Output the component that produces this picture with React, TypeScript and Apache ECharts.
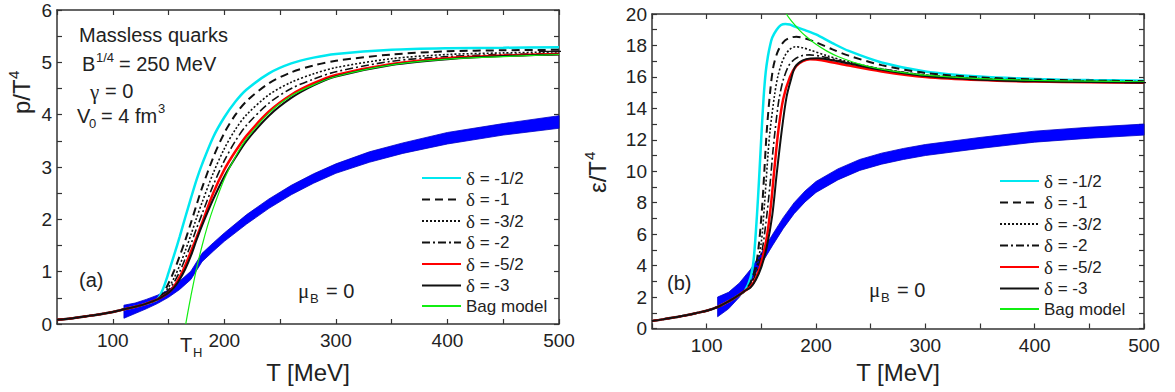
import React, { useEffect, useRef } from 'react';
import * as echarts from 'echarts';

// ---------- legend / series names ----------
const seriesNames = ['δ = -1/2', 'δ = -1', 'δ = -3/2', 'δ = -2', 'δ = -5/2', 'δ = -3', 'Bag model'];

// ---------- panel (a): p/T^4 ----------
const hadronT = [50, 60, 70, 80, 90, 100, 110, 120, 130, 140];
const hadronP = [0.08, 0.1, 0.13, 0.16, 0.19, 0.23, 0.28, 0.33, 0.39, 0.47];

const pT = [145, 150, 155, 160, 165, 170, 175, 180, 190, 200, 210, 220, 240, 260, 280, 300, 350, 400, 450, 500];
const pHalf = [0.67, 0.98, 1.32, 1.67, 2.04, 2.4, 2.75, 3.05, 3.57, 3.95, 4.25, 4.48, 4.79, 4.98, 5.09, 5.16, 5.24, 5.27, 5.28, 5.29];
const pOne = [0.58, 0.78, 1.02, 1.3, 1.6, 1.93, 2.27, 2.6, 3.18, 3.65, 4.0, 4.26, 4.6, 4.81, 4.94, 5.03, 5.15, 5.21, 5.23, 5.24];
const pThreeHalf = [0.56, 0.7, 0.88, 1.12, 1.4, 1.7, 2.02, 2.32, 2.88, 3.35, 3.72, 4.0, 4.38, 4.62, 4.78, 4.9, 5.07, 5.15, 5.18, 5.2];
const pTwo = [0.55, 0.65, 0.8, 1.0, 1.25, 1.52, 1.82, 2.1, 2.65, 3.12, 3.5, 3.8, 4.22, 4.5, 4.68, 4.82, 5.02, 5.11, 5.15, 5.17];
const pFiveHalf = [0.53, 0.6, 0.72, 0.9, 1.12, 1.38, 1.65, 1.93, 2.5, 2.95, 3.3, 3.6, 4.06, 4.38, 4.6, 4.76, 4.97, 5.08, 5.13, 5.16];
const pThree = [0.53, 0.6, 0.7, 0.85, 1.05, 1.3, 1.6, 1.88, 2.38, 2.82, 3.18, 3.5, 3.98, 4.32, 4.56, 4.73, 4.95, 5.06, 5.12, 5.15];

const bagPT = [165.4, 167, 170, 175, 180, 185, 190, 200, 210, 220, 240, 260, 280, 300, 350, 400, 450, 500];
const bagP = [0, 0.19, 0.53, 1.05, 1.49, 1.88, 2.21, 2.77, 3.2, 3.54, 4.03, 4.36, 4.57, 4.73, 4.95, 5.06, 5.11, 5.15];

const latPT = [110, 120, 130, 140, 150, 160, 170, 180, 190, 200, 220, 240, 260, 280, 300, 330, 360, 400, 450, 500];
const latPLow = [0.11, 0.2, 0.29, 0.39, 0.51, 0.66, 0.85, 1.19, 1.39, 1.58, 1.91, 2.21, 2.47, 2.69, 2.88, 3.09, 3.26, 3.44, 3.61, 3.74];
const latPHigh = [0.36, 0.4, 0.47, 0.55, 0.65, 0.82, 1.01, 1.35, 1.55, 1.74, 2.09, 2.39, 2.65, 2.87, 3.06, 3.29, 3.46, 3.66, 3.83, 3.98];

const sbLineT = [482, 512];
const sbP = 5.21;

// ---------- panel (b): eps/T^4 ----------
const hadronET = [50, 60, 70, 80, 90, 100, 110, 120, 130];
const hadronE = [0.48, 0.58, 0.7, 0.82, 0.97, 1.13, 1.37, 1.72, 2.15];

const eHalfT = [135, 140, 143, 146, 148, 150, 152, 154, 156, 158, 160, 164, 168, 172, 176, 180, 190, 200, 215, 230, 260, 300, 350, 400, 450, 500];
const eHalf = [2.4, 3.2, 4.4, 7.2, 9.6, 12.2, 14.6, 16.3, 17.3, 18.0, 18.5, 19.0, 19.3, 19.37, 19.33, 19.22, 18.97, 18.7, 18.15, 17.65, 16.92, 16.35, 16.02, 15.87, 15.8, 15.76];
const eOneT = [135, 140, 145, 148, 151, 153, 155, 158, 161, 165, 170, 175, 182, 190, 200, 215, 230, 260, 300, 350, 400, 450, 500];
const eOne = [2.4, 2.9, 4.0, 5.5, 8.0, 10.3, 12.6, 15.0, 16.65, 17.6, 18.2, 18.45, 18.56, 18.45, 18.2, 17.75, 17.35, 16.75, 16.25, 15.97, 15.84, 15.77, 15.73];
const eThreeHalfT = [135, 140, 145, 150, 153, 156, 158, 162, 165, 168.6, 172, 176, 181, 188, 195, 210, 230, 260, 300, 350, 400, 450, 500];
const eThreeHalf = [2.4, 2.8, 3.7, 5.5, 8.0, 11.0, 12.6, 14.8, 16.0, 16.87, 17.4, 17.75, 17.92, 17.85, 17.7, 17.35, 16.95, 16.5, 16.12, 15.9, 15.79, 15.73, 15.7];
const eTwoT = [135, 140, 145, 150, 154, 158, 160.5, 162.6, 166, 170, 175, 180, 187, 194, 205, 220, 240, 270, 300, 350, 400, 450, 500];
const eTwo = [2.4, 2.75, 3.5, 4.7, 6.6, 9.2, 11.2, 12.6, 14.5, 15.8, 16.7, 17.1, 17.35, 17.4, 17.3, 17.05, 16.75, 16.4, 16.12, 15.88, 15.77, 15.71, 15.68];
const eFiveHalfT = [135, 140, 145, 150, 155, 159, 162, 165.6, 170, 176.2, 182, 188, 194.5, 200, 210, 230, 260, 300, 350, 400, 450, 500];
const eFiveHalf = [2.4, 2.65, 3.2, 4.2, 5.8, 8.0, 10.2, 12.6, 14.6, 16.0, 16.7, 17.0, 17.12, 17.1, 17.0, 16.72, 16.35, 16.0, 15.8, 15.7, 15.66, 15.63];
const eThreeT = [135, 140, 145, 150, 155, 160, 164, 168.7, 173, 177, 181, 188, 195, 202, 210, 230, 260, 300, 350, 400, 450, 500];
const eThree = [2.4, 2.6, 3.1, 3.9, 5.2, 7.2, 9.8, 12.6, 14.7, 15.8, 16.65, 17.05, 17.17, 17.18, 17.12, 16.85, 16.45, 16.05, 15.82, 15.72, 15.67, 15.64];

const bagET = [172.9, 175, 180, 185, 190, 200, 210, 220, 240, 260, 280, 300, 350, 400, 450, 500];
const bagE = [20.0, 19.79, 19.35, 18.96, 18.63, 18.07, 17.64, 17.3, 16.81, 16.49, 16.27, 16.11, 15.89, 15.78, 15.73, 15.69];

const latET = [110, 120, 130, 140, 150, 160, 170, 180, 190, 200, 220, 240, 260, 280, 300, 350, 400, 450, 500];
const latELow = [0.75, 1.25, 2.0, 2.95, 4.1, 5.25, 6.35, 7.3, 8.05, 8.65, 9.45, 10.05, 10.45, 10.75, 11.0, 11.45, 11.85, 12.1, 12.3];
const latEHigh = [2.0, 2.3, 2.9, 3.75, 4.8, 5.95, 7.05, 8.0, 8.75, 9.35, 10.15, 10.75, 11.15, 11.45, 11.7, 12.15, 12.55, 12.8, 13.0];

const sbE = 15.63;

// ---------- styles ----------
const lineColors = ['#00e8f0', '#111', '#111', '#111', '#ff0000', '#111', '#11ee11'];
const lineWidths = [2.5, 2, 1.6, 1.6, 2.5, 2, 1.2];
const lineDash: any[] = ['solid', [8, 5], [2, 2], [8, 3, 2, 3], 'solid', 'solid', 'solid'];
const FONT = 'Liberation Sans';
const SERIF = 'Liberation Serif';

const pair = (xs: number[], ys: number[]) => xs.map((x, i) => [x, ys[i]]);

function buildOption() {
  const pCurves = [pHalf, pOne, pThreeHalf, pTwo, pFiveHalf, pThree];
  const eCurvesT = [eHalfT, eOneT, eThreeHalfT, eTwoT, eFiveHalfT, eThreeT];
  const eCurves = [eHalf, eOne, eThreeHalf, eTwo, eFiveHalf, eThree];

  const lineSeries = (name: string, idx: number, data: number[][], axis: number) => ({
    type: 'line', name, data, xAxisIndex: axis, yAxisIndex: axis,
    showSymbol: false, symbol: 'none', smooth: 0.3, z: 3,
    lineStyle: { color: lineColors[idx], width: lineWidths[idx], type: lineDash[idx] },
    itemStyle: { color: lineColors[idx] },
  });

  // lattice band drawn as one polygon through the axes' coordinate system
  const bandSeries = (T: number[], low: number[], high: number[], axis: number) => ({
    type: 'custom', xAxisIndex: axis, yAxisIndex: axis, z: 2, silent: true,
    data: T.map((t, i) => [t, low[i], high[i]]),
    encode: { x: 0, y: [1, 2] },
    renderItem: (params: any, api: any) => {
      if (params.dataIndex !== 0) return null;
      const pts: number[][] = [];
      for (let i = 0; i < T.length; i++) pts.push(api.coord([T[i], low[i]]));
      for (let i = T.length - 1; i >= 0; i--) pts.push(api.coord([T[i], high[i]]));
      return {
        type: 'polygon',
        shape: { points: pts },
        style: { fill: '#0000ff', stroke: '#0000c8', lineWidth: 0.8 },
      };
    },
  });

  const series: any[] = [];
  series.push(bandSeries(latPT, latPLow, latPHigh, 0));
  pCurves.forEach((c, i) => series.push(lineSeries(seriesNames[i], i, pair(hadronT.concat(pT), hadronP.concat(c)), 0)));
  series.push(lineSeries(seriesNames[6], 6, pair(bagPT, bagP), 0));
  series.push({
    type: 'line', data: pair(sbLineT, [sbP, sbP]), xAxisIndex: 0, yAxisIndex: 0, clip: false,
    showSymbol: false, symbol: 'none', lineStyle: { color: '#111', width: 1.2 }, z: 4,
  });

  series.push(bandSeries(latET, latELow, latEHigh, 2));
  eCurves.forEach((c, i) => series.push(lineSeries(seriesNames[i], i, pair(hadronET.concat(eCurvesT[i]), hadronE.concat(c)), 2)));
  series.push(lineSeries(seriesNames[6], 6, pair(bagET, bagE), 2));
  series.push({
    type: 'line', data: pair(sbLineT, [sbE, sbE]), xAxisIndex: 2, yAxisIndex: 2, clip: false,
    showSymbol: false, symbol: 'none', lineStyle: { color: '#111', width: 1.2 }, z: 4,
  });

  const axisLine = { onZero: false, lineStyle: { color: '#333', width: 1.5 } };
  const axisTick = { inside: true, length: 5, lineStyle: { color: '#333', width: 1.2 } };
  const xAxis = (gridIndex: number, position: string, show: boolean) => ({
    type: 'value', gridIndex, position, min: 50, max: 500, interval: 50,
    axisLine, axisTick, splitLine: { show: false },
    axisLabel: {
      show, fontSize: 19, color: '#222', fontFamily: FONT, margin: 7,
      formatter: (v: number) => (v % 100 === 0 ? String(v) : ''),
    },
  });
  const yAxis = (gridIndex: number, position: string, show: boolean, max: number, interval: number, labelEvery: number) => ({
    type: 'value', gridIndex, position, min: 0, max, interval,
    axisLine, axisTick, splitLine: { show: false },
    axisLabel: {
      show, fontSize: 19, color: '#222', fontFamily: FONT, margin: 5,
      formatter: (v: number) => (Math.abs(v / labelEvery - Math.round(v / labelEvery)) < 1e-6 ? String(Math.round(v)) : ''),
    },
  });

  const legendFormatter = (name: string) =>
    name.startsWith('δ') ? `{g|δ}{t|${name.slice(1)}}` : `{t|${name}}`;
  const legendCommon = {
    orient: 'vertical', itemWidth: 39, itemHeight: 17, itemGap: 2.5, padding: 0, selectedMode: false,
    data: seriesNames, formatter: legendFormatter,
    itemStyle: { opacity: 0, borderWidth: 0 },
    textStyle: {
      color: '#222', fontSize: 17, fontFamily: FONT,
      rich: {
        g: { fontFamily: SERIF, fontSize: 19, color: '#222', lineHeight: 17 },
        t: { fontFamily: FONT, fontSize: 17, color: '#222', lineHeight: 17 },
      },
    },
  };

  const txt = (x: number, y: number, text: string, size: number, family = FONT, align = 'left') => ({
    type: 'text', x, y, silent: true,
    style: {
      text, fill: '#222', fontSize: size, fontFamily: family,
      textAlign: align, align, textVerticalAlign: 'middle', verticalAlign: 'middle',
    },
  });

  const graphic: any[] = [
    // panel (a) annotations
    txt(79, 35, 'Massless quarks', 20),
    txt(82, 64, 'B', 20), txt(96, 57, '1/4', 13), txt(119, 64, '= 250 MeV', 20),
    txt(90, 92, 'γ', 21, SERIF), txt(105, 91, '= 0', 20),
    txt(77, 116, 'V', 20), txt(89, 123, '0', 13), txt(101, 116, '= 4 fm', 20), txt(158, 108, '3', 13),
    txt(79, 280, '(a)', 20),
    txt(298, 291, 'μ', 21, SERIF), txt(310, 298, 'B', 13), txt(326, 291, '= 0', 20),
    txt(180, 345, 'T', 20), txt(193, 352, 'H', 13),
    txt(308, 372, 'T [MeV]', 24, FONT, 'center'),
    {
      type: 'group', x: 21, y: 92, rotation: Math.PI / 2,
      children: [txt(-22, 0, 'p/T', 24), txt(13, -8, '4', 15)],
    },
    // panel (b) annotations
    txt(667, 283, '(b)', 20),
    txt(869, 290, 'μ', 21, SERIF), txt(881, 297, 'B', 13), txt(897, 290, '= 0', 20),
    txt(898, 372, 'T [MeV]', 24, FONT, 'center'),
    {
      type: 'group', x: 597, y: 172, rotation: Math.PI / 2,
      children: [txt(-21, 0, 'ε/T', 24), txt(12, -8, '4', 15)],
    },
  ];

  return {
    animation: false,
    backgroundColor: '#ffffff',
    textStyle: { fontFamily: FONT },
    grid: [
      { left: 57, top: 10, width: 502, height: 314 },
      { left: 652, top: 14, width: 492, height: 314.5 },
    ],
    xAxis: [xAxis(0, 'bottom', true), xAxis(0, 'top', false), xAxis(1, 'bottom', true), xAxis(1, 'top', false)],
    yAxis: [
      yAxis(0, 'left', true, 6, 0.5, 1), yAxis(0, 'right', false, 6, 0.5, 1),
      yAxis(1, 'left', true, 20, 1, 2), yAxis(1, 'right', false, 20, 1, 2),
    ],
    legend: [
      { ...legendCommon, left: 421, top: 168.5 },
      { ...legendCommon, left: 999, top: 171.5 },
    ],
    graphic,
    series,
  };
}

export default function App() {
  const ref = useRef<HTMLDivElement>(null);
  useEffect(() => {
    if (!ref.current) return;
    const chart = echarts.init(ref.current, undefined, { renderer: 'svg' });
    chart.setOption(buildOption() as any);
    return () => chart.dispose();
  }, []);
  return (
    <div
      ref={ref}
      style={{ position: 'absolute', left: 0, top: 0, width: 1175, height: 392, background: '#fff' }}
    />
  );
}
